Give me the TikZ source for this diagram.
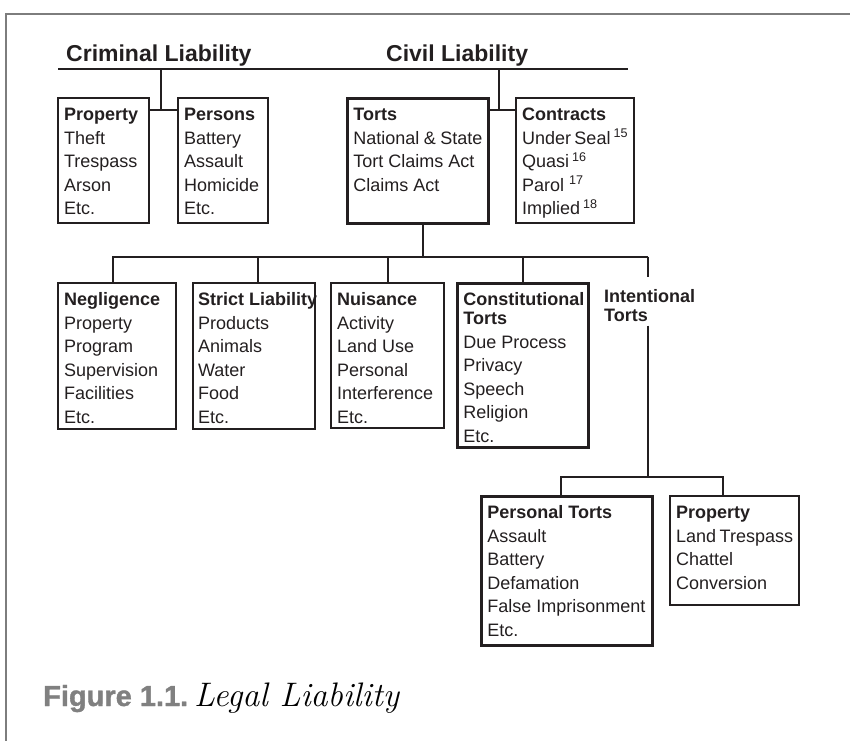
\documentclass[tikz,border=0pt]{standalone}
\usepackage{fontspec}
\usepackage{xcolor}
\usepackage{tikz}
\usetikzlibrary{positioning}
\newfontfamily\arial{Liberation Sans}
\newfontfamily\figfont[FakeBold=1.2]{Liberation Sans}
\definecolor{clrLine}{RGB}{35,31,32}
\definecolor{clrFrame}{RGB}{125,125,125}
\definecolor{clrFig}{RGB}{128,128,128}
\newcommand{\tlist}[3]{\parbox[c][#2][t]{#1}{\strut #3}}
\tikzset{
  box/.style={draw=clrLine,line width=2.1bp,anchor=north west,inner xsep=6bp,inner ysep=6bp,
    font=\arial\fontsize{18bp}{23.5bp}\selectfont,text=clrLine},
  boxthick/.style={box,line width=2.8bp},
  head/.style={font=\arial\bfseries\fontsize{23bp}{27bp}\selectfont,text=clrLine,
    anchor=base west,inner sep=0pt},
  link/.style={draw=clrLine,line width=2bp},
  frameline/.style={draw=clrFrame,line width=1.4bp}
}

\begin{document}
\begin{tikzpicture}[x=1bp,y=-1bp]
  \useasboundingbox (0,0) rectangle (850,741);
  \draw[frameline] (850,14) -- (6,14) -- (6,741);
  % headings
  \node[head] (crim) at (66,61.7) {Criminal Liability};
  \node[head] (civ) at (386,61.7) {Civil Liability};
  \coordinate (hl) at (58,69.5);
  \coordinate (hr) at (628,69.5);
  \draw[link] (hl) -- (hr);
  % first row
  \node[box] (propC) at (57,97)
    {\tlist{79bp}{113bp}{\textbf{Property}\\Theft\\Trespass\\Arson\\Etc.}};
  \node[box] (persC) at (177,97)
    {\tlist{78bp}{113bp}{\textbf{Persons}\\Battery\\Assault\\Homicide\\Etc.}};
  \node[boxthick] (torts) at (346,97)
    {\tlist{129bp}{113bp}{\textbf{Torts}\\National \& State\\Tort Claims Act\\Claims Act}};
  \node[box] (contr) at (515,97)
    {\tlist{106bp}{113bp}{\textbf{Contracts}\\Under Seal\,\textsuperscript{15}\\Quasi\,\textsuperscript{16}\\Parol \textsuperscript{17}\\Implied\,\textsuperscript{18}}};
  \coordinate (cj) at (161,110);
  \coordinate (vj) at (499,110);
  \draw[link] (cj |- hl) -- (cj);
  \draw[link] (propC.east |- cj) -- (persC.west |- cj);
  \draw[link] (vj |- hl) -- (vj);
  \draw[link] (torts.east |- vj) -- (contr.west |- vj);
  % kinds of torts
  \node[box] (negl) at (57,282)
    {\tlist{106bp}{134bp}{\textbf{Negligence}\\Property\\Program\\Supervision\\Facilities\\Etc.}};
  \node[box,inner xsep=5bp] (strict) at (192,282)
    {\tlist{112bp}{134bp}{\mbox{\textbf{Strict Liability}}\\Products\\Animals\\Water\\Food\\Etc.}};
  \node[box] (nuis) at (330,282)
    {\tlist{101bp}{133bp}{\textbf{Nuisance}\\Activity\\Land Use\\Personal\\Interference\\Etc.}};
  \node[boxthick] (const) at (456,282)
    {\tlist{119bp}{152bp}{\textbf{Constitutional}\\[-4.5bp]\textbf{Torts}\\Due Process\\Privacy\\Speech\\Religion\\Etc.}};
  \node[font=\arial\bfseries\fontsize{18bp}{19bp}\selectfont,text=clrLine,align=left,
    anchor=north west,inner xsep=0pt,inner ysep=4bp] (intl) at (604,285) {Intentional\\Torts};
  \coordinate (tb) at (423,256.7);
  \coordinate (ib) at (648.3,256.7);
  \draw[link] (tb |- torts.south) -- (tb);
  \draw[link] ([xshift=-4bp]negl.north) |- (ib);
  \draw[link] ([xshift=4bp]strict.north) -- ([xshift=4bp]strict.north |- ib);
  \draw[link] (nuis.north) -- (nuis.north |- ib);
  \draw[link] (const.north) -- (const.north |- ib);
  \draw[link,shorten >=8bp] (ib) -- (ib |- intl.north);
  % intentional torts
  \node[boxthick] (pers) at (480,495)
    {\tlist{159bp}{137bp}{\textbf{Personal Torts}\\Assault\\Battery\\Defamation\\False Imprisonment\\Etc.}};
  \node[box] (propI) at (669,495)
    {\tlist{117bp}{97bp}{\textbf{Property}\\Land Trespass\\Chattel\\Conversion}};
  \coordinate (ij) at (648.3,476.7);
  \draw[link] (ib |- intl.south) -- (ij);
  \draw[link] ([xshift=-6bp]pers.north) |- (ij) -| ([xshift=-12bp]propI.north);
  % caption
  \node[anchor=base west,inner sep=0pt] (cap) at (43,706)
    {{\figfont\bfseries\fontsize{29bp}{32bp}\selectfont\color{clrFig}Figure 1.1.}\hspace{6bp}{\fontsize{34bp}{36bp}\selectfont\itshape Legal Liability}};
\end{tikzpicture}
\end{document}
